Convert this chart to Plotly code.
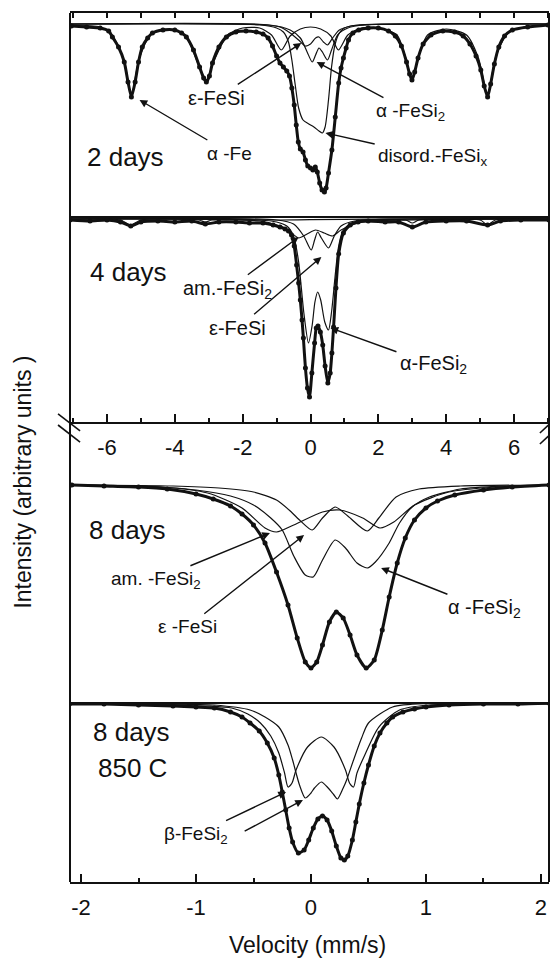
import plotly.graph_objects as go

# ---------------- DATA (velocity in mm/s, intensity in arbitrary units) ----------------
# Panel A : 2 days
A_data_v = [-7.05,-6.6,-6.2,-5.95,-5.84,-5.66,-5.49,-5.38,-5.28,-5.17,-5.07,-4.96,-4.8,-4.66,-4.35,-4.0,-3.8,-3.66,-3.45,-3.27,-3.15,-3.07,-2.98,-2.89,-2.7,-2.48,-2.2,-1.9,-1.6,-1.4,-1.25,-1.12,-1.0,-0.9,-0.8,-0.7,-0.62,-0.55,-0.48,-0.42,-0.36,-0.3,-0.22,-0.15,-0.08,0.0,0.07,0.14,0.2,0.27,0.34,0.41,0.46,0.53,0.63,0.73,0.83,0.9,0.97,1.05,1.12,1.25,1.42,1.7,2.0,2.3,2.5,2.68,2.83,2.92,2.99,3.07,3.17,3.32,3.55,3.9,4.25,4.5,4.7,4.88,5.02,5.12,5.22,5.31,5.42,5.55,5.72,5.95,6.4,7.0]
A_data_i = [999,998,997,994,988,978,963,943,928,943,963,978,987,992,995,995,992,988,975,958,947,943,949,962,978,988,993,994,993,991,987,979,969,962,958,954,949,937,920,900,883,876,873,865,859,857,855,858,853,842,835,833,837,852,875,908,942,957,967,977,985,992,995,997,997,994,989,979,963,951,945,953,967,981,990,994,993,989,981,969,955,939,928,941,961,978,989,995,998,1000]

A_fe_v = [-7.09,-6.2,-5.85,-5.5,-5.28,-5.06,-4.7,-4.2,-3.7,-3.3,-3.07,-2.87,-2.45,-2.0,-1.5,-1.15,-0.86,-0.6,-0.3,0.0,0.3,0.6,0.82,1.1,1.5,2.0,2.55,2.78,2.99,3.2,3.45,4.0,4.6,4.95,5.22,5.45,5.8,6.3,7.03]
A_fe_i = [1000,998,990,965,930,965,991,996,990,960,945,962,990,997,997,990,975,989,996,998,996,989,975,990,997,997,990,970,947,970,990,996,990,967,930,967,991,998,1000]

A_eps_v = [-7.09,-1.5,-0.9,-0.6,-0.35,-0.15,0.0,0.15,0.25,0.38,0.5,0.65,0.85,1.2,1.8,7.03]
A_eps_i = [1001,1000.5,998,992,985,979,981,987,988,983,980,987,995,999,1000.5,1001]

A_afs_v = [-7.09,-1.2,-0.6,-0.3,-0.1,0.05,0.15,0.25,0.35,0.5,0.62,0.8,1.1,1.6,7.03]
A_afs_i = [1001,1000,995,987,973,963,970,977,973,965,975,990,997,1000,1001]

A_dis_v = [-7.09,-1.5,-1.0,-0.8,-0.65,-0.55,-0.45,-0.35,-0.22,-0.05,0.1,0.25,0.35,0.43,0.53,0.62,0.72,0.85,1.0,1.4,7.03]
A_dis_i = [1001,1000,997,993,983,965,940,917,905,901,898,894,892,898,925,958,980,992,997,1000,1001]

# Panel B : 4 days
B_data_v = [-7.09,-6.5,-6.0,-5.6,-5.3,-5.0,-4.5,-4.0,-3.5,-3.1,-2.7,-2.2,-1.8,-1.4,-1.1,-0.9,-0.75,-0.65,-0.56,-0.48,-0.41,-0.35,-0.3,-0.25,-0.21,-0.15,-0.09,-0.03,0.04,0.12,0.17,0.22,0.29,0.36,0.43,0.51,0.58,0.63,0.68,0.75,0.83,0.97,1.17,1.4,1.7,2.2,2.6,3.0,3.4,4.0,4.6,5.22,5.6,6.2,7.03]
B_data_i = [999,998,999,997,993,997,998,997,998,995,997,997,996,996,994,992,990,988,984,973,954,936,919,899,881,851,831,822,846,876,891,893,887,874,853,836,846,866,892,931,965,986,994,997,998,997,997,992,997,998,998,994,998,999,999]

B_afs_v = [-7.09,-1.5,-1.0,-0.7,-0.5,-0.35,-0.2,-0.06,0.05,0.13,0.21,0.3,0.42,0.53,0.62,0.72,0.82,0.95,1.2,1.6,7.03]
B_afs_i = [1000,999,997,993,983,957,907,876,894,917,927,919,897,889,907,941,971,988,996,999,1000]

B_eps_v = [-7.09,-1.0,-0.5,-0.2,0.02,0.12,0.21,0.32,0.53,0.7,0.9,1.3,7.03]
B_eps_i = [1000,999,995,983,969,979,987,981,971,983,993,998,1000]

B_am_v = [-7.09,-1.5,-1.0,-0.6,-0.35,-0.1,0.15,0.4,0.65,0.9,1.3,1.8,7.03]
B_am_i = [1000,998,994,987,981,985,989,986,983,989,995,998,1000]

B_fe_v = [-7.09,-5.6,-5.3,-5.0,-3.3,-3.1,-2.9,-1.0,2.8,3.0,3.2,5.0,5.22,5.45,7.03]
B_fe_i = [1000,999,994,999,999,997,999,999,999,996,999,999,994,999,1000]

# Panel C : 8 days
C_data_v = [-2.08,-1.8,-1.5,-1.25,-1.0,-0.85,-0.7,-0.6,-0.5,-0.4,-0.3,-0.2,-0.12,-0.05,0.0,0.05,0.1,0.16,0.22,0.28,0.34,0.4,0.48,0.55,0.62,0.68,0.75,0.82,0.9,1.0,1.1,1.25,1.5,1.75,2.07]
C_data_i = [1000,999,998,996,991,986,979,971,960,942,913,880,847,823,817,823,840,863,873,867,850,830,817,825,855,888,922,947,965,977,984,990,995,998,1000]

C_afs_v = [-2.08,-1.5,-1.0,-0.7,-0.5,-0.35,-0.25,-0.15,-0.05,0.02,0.1,0.21,0.3,0.4,0.49,0.56,0.68,0.77,0.88,1.03,1.3,1.7,2.07]
C_afs_i = [1000,999,995,989,980,967,955,929,910,908,925,945,937,922,917,923,942,962,978,988,996,999,1000]

C_eps_v = [-2.08,-1.2,-0.8,-0.5,-0.3,-0.19,-0.1,0.01,0.1,0.21,0.32,0.49,0.59,0.74,0.94,1.3,2.07]
C_eps_i = [1000,999,997,993,985,975,965,955,967,978,969,954,967,988,996,999,1000]

C_am_v = [-2.08,-1.3,-0.9,-0.6,-0.4,-0.3,-0.15,0.1,0.25,0.45,0.6,0.72,0.9,1.2,1.6,2.07]
C_am_i = [1000,998,992,977,957,953,960,973,975,967,957,963,980,993,998,1000]

# Panel D : 8 days, 850 C
D_data_v = [-2.1,-1.8,-1.5,-1.2,-1.0,-0.84,-0.7,-0.6,-0.53,-0.45,-0.38,-0.32,-0.28,-0.25,-0.22,-0.19,-0.16,-0.11,-0.06,-0.02,0.02,0.06,0.1,0.14,0.18,0.22,0.26,0.29,0.32,0.36,0.39,0.42,0.46,0.5,0.55,0.6,0.66,0.71,0.8,0.9,1.0,1.2,1.5,1.8,2.07]
D_data_i = [1000,1000,999,998,997,996,992,987,981,973,961,946,929,912,894,876,862,851,854,864,876,885,888,884,873,858,846,844,848,864,882,900,921,939,958,971,981,987,992,995,997,999,1000,1000,1001]

D_b1_v = [-2.1,-1.2,-0.9,-0.69,-0.55,-0.44,-0.35,-0.28,-0.23,-0.2,-0.165,-0.13,-0.03,0.09,0.2,0.3,0.335,0.37,0.4,0.46,0.59,0.77,1.02,1.5,2.07]
D_b1_i = [1000,999,998,996,990,981,968,951,931,917,921,934,957,967,957,934,921,917,931,947,977,994,999,1000,1000]

D_b2_v = [-2.1,-1.0,-0.84,-0.53,-0.4,-0.28,-0.2,-0.16,-0.1,-0.05,0.0,0.03,0.09,0.15,0.2,0.23,0.28,0.31,0.37,0.44,0.5,0.71,1.02,2.07]
D_b2_i = [1000,999.5,999,994,987,977,959,944,919,906,911,916,922,916,909,905,916,924,944,966,981,997,1000.5,1000]

TOP_TICKS = [-6, -4, -2, 0, 2, 4, 6]
TOP_LABELS = ["-6", "-4", "-2", "0", "2", "4", "6"]
BOT_TICKS = [-2, -1, 0, 1, 2]
BOT_LABELS = ["-2", "-1", "0", "1", "2"]

# ---------------- FIGURE ----------------
FONT = "Liberation Sans, Arial, sans-serif"
BLACK = "#111111"
fig = go.Figure()

def comp(v, i, xa, ya):
    fig.add_trace(go.Scatter(x=v, y=i, xaxis=xa, yaxis=ya, mode="lines",
                             line=dict(color=BLACK, width=1.2, shape="spline", smoothing=0.7),
                             hoverinfo="skip", showlegend=False))

def data(v, i, xa, ya):
    fig.add_trace(go.Scatter(x=v, y=i, xaxis=xa, yaxis=ya, mode="lines+markers",
                             line=dict(color=BLACK, width=3, shape="spline", smoothing=0.6),
                             marker=dict(color=BLACK, size=5),
                             hoverinfo="skip", showlegend=False))

for v, i in [(A_fe_v, A_fe_i), (A_eps_v, A_eps_i), (A_afs_v, A_afs_i), (A_dis_v, A_dis_i)]:
    comp(v, i, "x", "y")
data(A_data_v, A_data_i, "x", "y")

for v, i in [(B_fe_v, B_fe_i), (B_am_v, B_am_i), (B_eps_v, B_eps_i), (B_afs_v, B_afs_i)]:
    comp(v, i, "x2", "y2")
data(B_data_v, B_data_i, "x2", "y2")

for v, i in [(C_am_v, C_am_i), (C_eps_v, C_eps_i), (C_afs_v, C_afs_i)]:
    comp(v, i, "x3", "y3")
data(C_data_v, C_data_i, "x3", "y3")

for v, i in [(D_b1_v, D_b1_i), (D_b2_v, D_b2_i)]:
    comp(v, i, "x4", "y4")
data(D_data_v, D_data_i, "x4", "y4")

TOP_RANGE = [-7.09, 7.03]
BOT_RANGE = [-2.096, 2.07]
dA = [0.76525, 1.0]
dB = [0.52934, 0.76525]
dC = [0.20598, 0.47411]
dD = [0.0, 0.20598]

tickfont = dict(family=FONT, size=22, color=BLACK)
hidden_y = dict(visible=False, fixedrange=True, automargin=False)

# the page body has an 8px default margin, so the figure is 8px smaller and shifted
fig.update_layout(
    template="none",
    width=550, height=950, autosize=False,
    margin=dict(l=62, r=9, t=5, b=76, pad=0),
    paper_bgcolor="white", plot_bgcolor="white",
    font=dict(family=FONT, color=BLACK),
    showlegend=False,
    xaxis=dict(domain=[0, 1], anchor="y", range=TOP_RANGE, side="top", automargin=False,
               showline=True, linewidth=2, linecolor=BLACK,
               ticks="inside", ticklen=5, tickwidth=1.5, tickcolor=BLACK,
               tick0=0, dtick=1, showticklabels=False, showgrid=False, zeroline=False),
    yaxis=dict(domain=dA, range=[808, 1012], **hidden_y),
    xaxis2=dict(domain=[0, 1], anchor="y2", range=TOP_RANGE, automargin=False,
                showline=True, linewidth=2, linecolor=BLACK,
                ticks="inside", ticklen=8, tickwidth=1.5, tickcolor=BLACK,
                tickmode="array", tickvals=TOP_TICKS, ticktext=TOP_LABELS,
                minor=dict(ticks="inside", ticklen=4, tickwidth=1.5, tickcolor=BLACK, dtick=1, tick0=0, showgrid=False),
                tickfont=tickfont, ticklabelstandoff=5,
                showgrid=False, zeroline=False),
    yaxis2=dict(domain=dB, range=[797, 1002], **hidden_y),
    xaxis3=dict(domain=[0, 1], anchor="y3", range=BOT_RANGE, visible=False, automargin=False),
    yaxis3=dict(domain=dC, range=[782, 1015], **hidden_y),
    xaxis4=dict(domain=[0, 1], anchor="y4", range=BOT_RANGE, automargin=False,
                showline=True, linewidth=2, linecolor=BLACK,
                ticks="inside", ticklen=8, tickwidth=1.5, tickcolor=BLACK,
                tickmode="array", tickvals=BOT_TICKS, ticktext=BOT_LABELS,
                minor=dict(ticks="inside", ticklen=4, tickwidth=1.5, tickcolor=BLACK, dtick=0.5, tick0=0, showgrid=False),
                tickfont=tickfont, ticklabelstandoff=5,
                showgrid=False, zeroline=False),
    yaxis4=dict(domain=dD, range=[822, 1001], **hidden_y),
)

# frame lines and panel separators
line = dict(color=BLACK, width=2)
shapes = [
    dict(type="line", xref="paper", yref="paper", x0=0, x1=0, y0=0, y1=1, line=line),
    dict(type="line", xref="paper", yref="paper", x0=1, x1=1, y0=0, y1=1, line=line),
    dict(type="line", xref="paper", yref="paper", x0=0, x1=1, y0=dA[0], y1=dA[0], line=line),
    dict(type="line", xref="paper", yref="paper", x0=0, x1=1, y0=dD[1], y1=dD[1], line=line),
    # axis break marks
    dict(type="line", xref="paper", yref="paper", x0=-0.025, x1=0.021, y0=0.5386, y1=0.5190, line=dict(color=BLACK, width=1.6)),
    dict(type="line", xref="paper", yref="paper", x0=-0.025, x1=0.021, y0=0.5259, y1=0.5063, line=dict(color=BLACK, width=1.6)),
    dict(type="line", xref="paper", yref="paper", x0=0.981, x1=1.017, y0=0.5167, y1=0.5351, line=dict(color=BLACK, width=1.6)),
    dict(type="line", xref="paper", yref="paper", x0=0.981, x1=1.017, y0=0.5040, y1=0.5224, line=dict(color=BLACK, width=1.6)),
]
fig.update_layout(shapes=shapes)

ann = []
def label(text, x, y, xr, yr, size=19, head=None):
    a = dict(text=text, xref=xr, yref=yr,
             font=dict(family=FONT, size=size, color=BLACK),
             xanchor="center", yanchor="middle")
    if head is None:
        a.update(x=x, y=y, showarrow=False)
    else:
        a.update(x=head[0], y=head[1], ax=x, ay=y, axref=xr, ayref=yr, showarrow=True,
                 arrowhead=2, arrowsize=1.1, arrowwidth=1.4, arrowcolor=BLACK, standoff=0, startstandoff=2)
    ann.append(a)

def arrow(hx, hy, tx, ty, xr, yr):
    ann.append(dict(text="", x=hx, y=hy, ax=tx, ay=ty, xref=xr, yref=yr, axref=xr, ayref=yr,
                    showarrow=True, arrowhead=2, arrowsize=1.1, arrowwidth=1.4, arrowcolor=BLACK))

# panel A
label("2 days", -5.44, 868, "x", "y", 26)
label("ε-FeSi", -2.76, 927, "x", "y", 20, head=(-0.27, 982))
label("α -Fe", -2.39, 872, "x", "y", 19, head=(-5.04, 925))
label("α -FeSi<sub>2</sub>", 2.95, 913, "x", "y", 19, head=(0.18, 963))
label("disord.-FeSi<sub>x</sub>", 3.6, 868, "x", "y", 19, head=(0.44, 892))

# panel B
label("4 days", -5.37, 947, "x2", "y2", 26)
label("am.-FeSi<sub>2</sub>", -2.45, 929, "x2", "y2", 20, head=(-0.35, 982))
label("ε-FeSi", -2.14, 891, "x2", "y2", 20, head=(0.32, 962))
label("α-FeSi<sub>2</sub>", 3.62, 854, "x2", "y2", 20, head=(0.59, 891))

# panel C
label("8 days", -1.6, 955, "x3", "y3", 26)
label("am. -FeSi<sub>2</sub>", -1.35, 905, "x3", "y3", 19, head=(-0.357, 952))
label("ε -FeSi", -1.074, 858, "x3", "y3", 19, head=(-0.06, 950))
label("α -FeSi<sub>2</sub>", 1.51, 876, "x3", "y3", 20, head=(0.61, 917))

# panel D
label("8 days", -1.565, 972, "x4", "y4", 26)
label("850 C", -1.55, 936, "x4", "y4", 26)
label("β-FeSi<sub>2</sub>", -1.0, 869, "x4", "y4", 19, head=(-0.217, 912))
arrow(-0.07, 904, -0.59, 872, "x4", "y4")

# axis titles
ann.append(dict(text="Intensity (arbitrary units )", x=-0.1, y=0.4597, xref="paper", yref="paper",
                showarrow=False, textangle=-90, xanchor="center", yanchor="middle",
                font=dict(family=FONT, size=23, color=BLACK)))
ann.append(dict(text="Velocity (mm/s)", x=0.495, y=-0.0728, xref="paper", yref="paper",
                showarrow=False, xanchor="center", yanchor="middle",
                font=dict(family=FONT, size=23, color=BLACK)))

fig.update_layout(annotations=ann)
fig.write_html("out.html")
